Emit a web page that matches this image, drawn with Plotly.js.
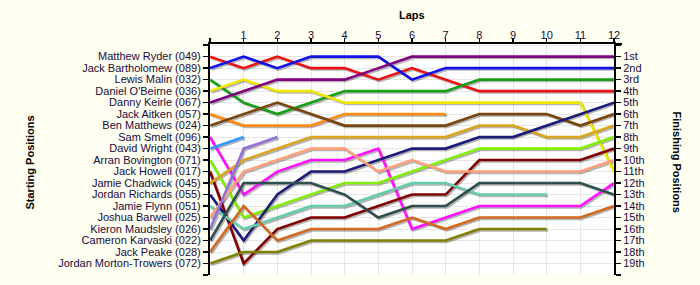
<!DOCTYPE html>
<html>
<head>
<meta charset="utf-8">
<script src="https://cdn.plot.ly/plotly-3.0.1.min.js"></script>
<style>
  html, body { margin: 0; padding: 0; background: #fffff2; }
  #chart { width: 700px; height: 285px; }
</style>
</head>
<body>
<div id="chart"></div>
<script>
// ---- data ----
const laps = [0, 1, 2, 3, 4, 5, 6, 7, 8, 9, 10, 11, 12];
const lapLabels = ['', '1', '2', '3', '4', '5', '6', '7', '8', '9', '10', '11', '12'];

const drivers = [
  'Matthew Ryder (049)', 'Jack Bartholomew (089)', 'Lewis Malin (032)', "Daniel O'Beirne (036)",
  'Danny Keirle (067)', 'Jack Aitken (057)', 'Ben Matthews (024)', 'Sam Smelt (096)',
  'David Wright (043)', 'Arran Bovington (071)', 'Jack Howell (017)', 'Jamie Chadwick (045)',
  'Jordan Richards (055)', 'Jamie Flynn (051)', 'Joshua Barwell (025)', 'Kieron Maudsley (026)',
  'Cameron Karvaski (022)', 'Jack Peake (028)', 'Jordan Morton-Trowers (072)'
];
const finishLabels = ['1st','2nd','3rd','4th','5th','6th','7th','8th','9th','10th',
  '11th','12th','13th','14th','15th','16th','17th','18th','19th'];

const ryder       = [1, 2, 1, 2, 2, 3, 2, 3, 4, 4, 4, 4, 4];
const bartholomew = [2, 1, 2, 1, 1, 1, 3, 2, 2, 2, 2, 2, 2];
const malin       = [3, 5, 6, 5, 4, 4, 4, 4, 3, 3, 3, 3, 3];
const obeirne     = [4, 3, 4, 4, 5, 5, 5, 5, 5, 5, 5, 5, 11];
const keirle      = [5, 4, 3, 3, 3, 2, 1, 1, 1, 1, 1, 1, 1];
const aitken      = [6, 7, 7, 7, 6, 6, 6, 6];
const matthews    = [7, 6, 5, 6, 7, 7, 7, 7, 6, 6, 6, 7, 6];
const smelt       = [8, 13, 11, 10, 10, 9, 16, 15, 14, 14, 14, 14, 12];
const wright      = [9, 8];
const bovington   = [10, 15, 14, 13, 12, 12, 11, 10, 9, 9, 9, 9, 8];
const howell      = [11, 19, 16, 15, 15, 14, 13, 13, 10, 10, 10, 10, 9];
const chadwick    = [12, 10, 9, 8, 8, 8, 8, 8, 7, 7, 8, 8, 7];
const richards    = [13, 17, 13, 11, 11, 10, 9, 9, 8, 8, 7, 6, 5];
const flynn       = [14, 16, 15, 14, 14, 13, 12, 12, 13, 13, 13];
const barwell     = [15, 11, 10, 9, 9, 11, 10, 11, 11, 11, 11, 11, 10];
const maudsley    = [16, 9, 8];
const karvaski    = [17, 12, 12, 12, 13, 15, 14, 14, 12, 12, 12, 12, 13];
const peake       = [18, 14, 17, 16, 16, 16, 15, 16, 15, 15, 15, 15, 14];
const mortonTrowers = [19, 18, 18, 17, 17, 17, 17, 17, 16, 16, 16];

const series = [ryder, bartholomew, malin, obeirne, keirle, aitken, matthews, smelt, wright,
  bovington, howell, chadwick, richards, flynn, barwell, maudsley, karvaski, peake, mortonTrowers];

// ---- styles ----
const colors = ['#f01010', '#1010e8', '#16a016', '#f2e600', '#800080', '#ff8a14', '#7a4610',
  '#ff10ff', '#3399ff', '#80f000', '#800000', '#daa520', '#1c1c78', '#66cdaa', '#ffa07a',
  '#9370db', '#2f4f4f', '#d2691e', '#808000'];

const txtColor = '#1a0a3a';
const positions = [];
for (let i = 0; i <= 20; i++) positions.push(i);
const leftText = positions.map(p => (p >= 1 && p <= 19) ? drivers[p - 1] : '');
const rightText = positions.map(p => (p >= 1 && p <= 19) ? finishLabels[p - 1] : '');

const traces = [];
// shadows on base (hidden, slightly shifted) axes
series.forEach((s, i) => {
  traces.push({
    x: laps.slice(0, s.length), y: s, xaxis: 'x', yaxis: 'y',
    type: 'scatter', mode: 'lines', hoverinfo: 'skip', showlegend: false,
    line: { color: 'rgba(40,40,40,0.35)', width: 2.6 }
  });
});
// real lines
series.forEach((s, i) => {
  traces.push({
    x: laps.slice(0, s.length), y: s, xaxis: 'x2', yaxis: 'y2',
    type: 'scatter', mode: 'lines', name: drivers[i], showlegend: false,
    line: { color: colors[i], width: 2.6 }
  });
});
// dummy for right axis
traces.push({ x: [null], y: [null], xaxis: 'x2', yaxis: 'y3', type: 'scatter', mode: 'lines', showlegend: false, hoverinfo: 'skip' });

const yRange = [20, -0.1];
const dx = 1.4 / (404 / 12);
const dy = 1.4 / (231 / 20.1);

const font = { family: 'Liberation Sans, Arial, sans-serif', size: 11, color: txtColor };

const layout = {
  width: 700, height: 285,
  margin: { l: 210, r: 86, t: 44, b: 10 },
  paper_bgcolor: '#fffff2',
  plot_bgcolor: '#ffffff',
  showlegend: false,
  font: font,
  xaxis: { visible: false, range: [0 - dx, 12 - dx], fixedrange: true },
  yaxis: { visible: false, range: [yRange[0] - dy, yRange[1] - dy], fixedrange: true },
  xaxis2: {
    overlaying: 'x', side: 'top', anchor: 'y2', range: [0, 12],
    tickmode: 'array', tickvals: laps, ticktext: lapLabels,
    ticks: 'outside', ticklen: 4, tickwidth: 1.5, tickcolor: '#000',
    ticklabelstandoff: -5,
    showline: true, linecolor: '#000', linewidth: 2,
    showgrid: true, gridcolor: '#e6e6e6', gridwidth: 1, zeroline: false,
    tickfont: { family: font.family, size: 11, color: txtColor }
  },
  yaxis2: {
    overlaying: 'y', side: 'left', anchor: 'x2', range: yRange,
    tickmode: 'array', tickvals: positions, ticktext: leftText,
    ticks: 'outside', ticklen: 5, tickwidth: 1.5, tickcolor: '#000',
    showline: true, linecolor: '#000', linewidth: 2,
    showgrid: true, gridcolor: '#e6e6e6', gridwidth: 1, zeroline: false,
    tickfont: { family: font.family, size: 11, color: txtColor }
  },
  yaxis3: {
    overlaying: 'y', side: 'right', anchor: 'x2', range: yRange,
    tickmode: 'array', tickvals: positions, ticktext: rightText,
    ticks: 'outside', ticklen: 5, tickwidth: 1.5, tickcolor: '#000',
    showline: true, linecolor: '#000', linewidth: 2,
    showgrid: false, zeroline: false,
    tickfont: { family: font.family, size: 11, color: txtColor }
  },
  shapes: [
    { type: 'line', xref: 'paper', yref: 'paper', x0: 1, x1: 1.02, y0: 1, y1: 1,
      line: { color: '#000', width: 2 } }
  ],
  annotations: [
    { text: '<b>Laps</b>', xref: 'paper', yref: 'paper', x: 0.5, y: 1, yanchor: 'middle', yshift: 29,
      showarrow: false, font: { family: font.family, size: 11, color: '#000' } },
    { text: '<b>Starting Positions</b>', xref: 'paper', yref: 'paper', x: 0, xshift: -189, y: 0.5, yshift: -3,
      textangle: -90, showarrow: false, font: { family: font.family, size: 11, color: '#000' } },
    { text: '<b>Finishing Positions</b>', xref: 'paper', yref: 'paper', x: 1, xshift: 71, y: 0.5, yshift: -2,
      textangle: 90, showarrow: false, font: { family: font.family, size: 11, color: '#000' } }
  ]
};

Plotly.newPlot('chart', traces, layout, { displayModeBar: false, staticPlot: true });
</script>
</body>
</html>
